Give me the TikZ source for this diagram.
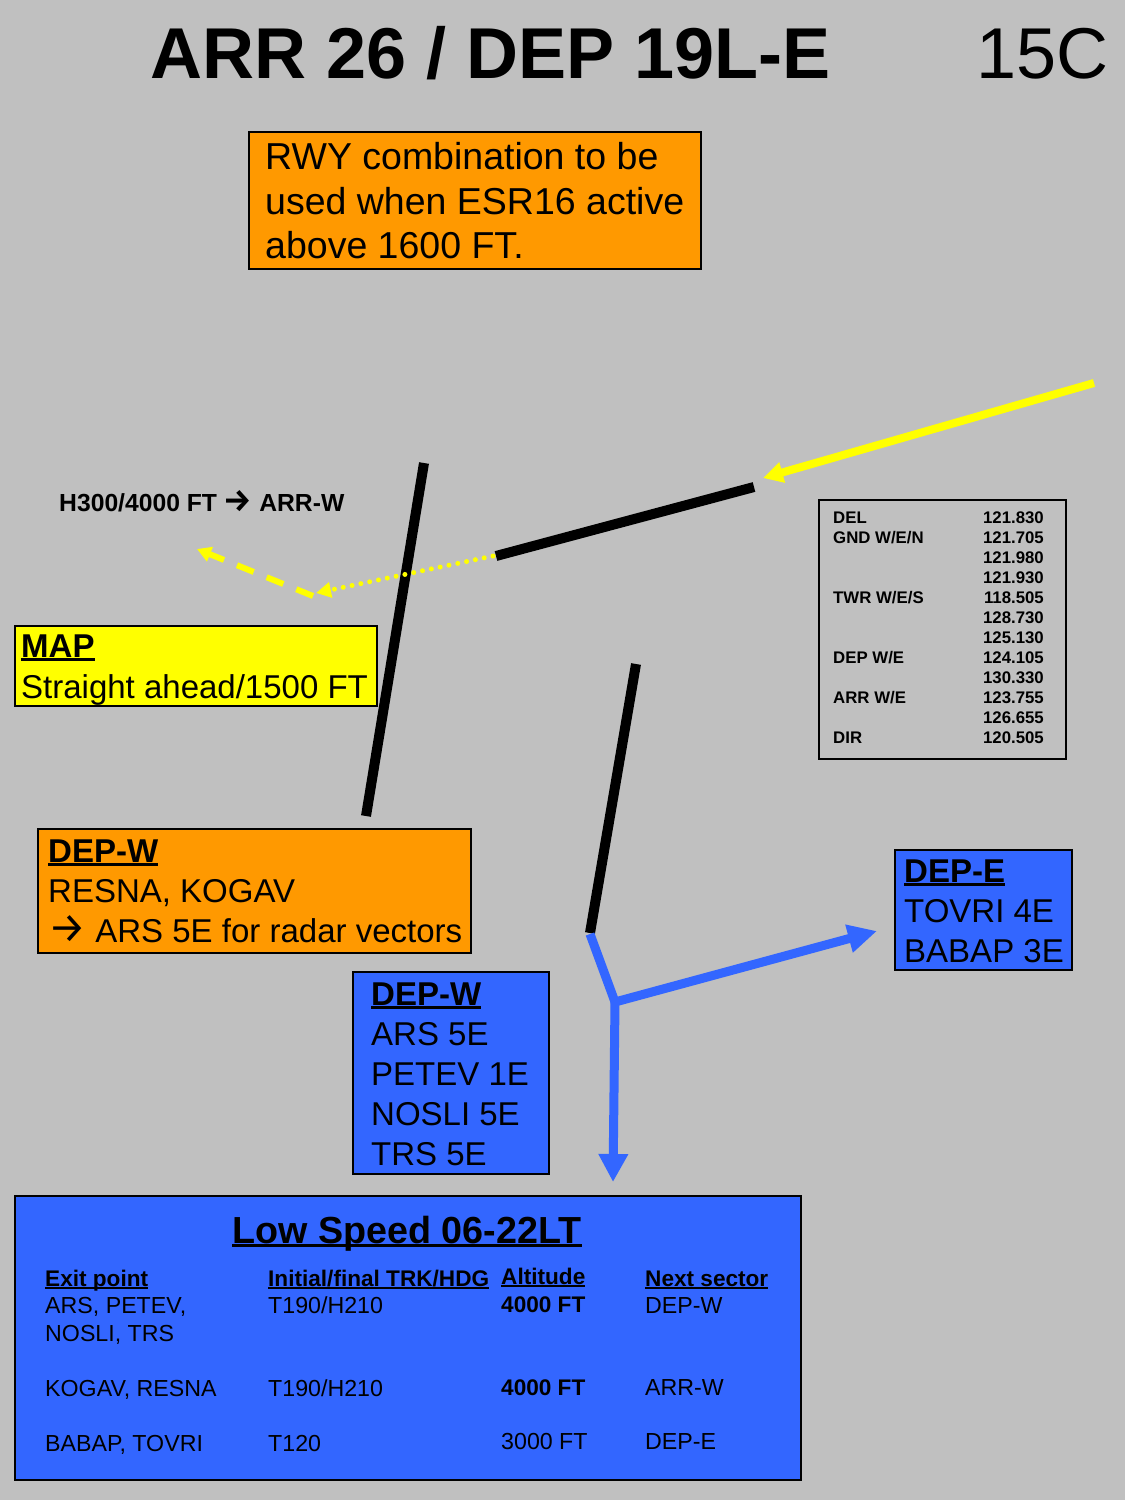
\documentclass[tikz,border=0pt]{standalone}
\usepackage{fontspec}
\setmainfont{Liberation Sans}
\newfontfamily\arrowfont{Fira Sans}
\usetikzlibrary{arrows.meta}
\definecolor{bggray}{RGB}{192,192,192}
\definecolor{orbox}{RGB}{255,153,0}
\definecolor{ylw}{RGB}{255,255,0}
\definecolor{blu}{RGB}{51,102,255}
\newcommand{\ulbar}[1]{\setbox0=\hbox{#1}\leavevmode\rlap{\rule[-0.11em]{\wd0}{0.075em}}\box0}
\newcommand{\rarr}{{\arrowfont\scalebox{1.28}{→}}}
\begin{document}
\begin{tikzpicture}[x=1pt,y=-1pt,
  boxnode/.style={draw=black, line width=2pt, inner sep=0pt, anchor=north west},
  txt/.style={inner sep=0pt, anchor=base west},
  tTitle/.style={txt, font=\fontsize{72}{80}\selectfont},
  tBig/.style={txt, font=\fontsize{37.5}{43}\selectfont},
  tMid/.style={txt, font=\fontsize{33}{40}\selectfont},
  tMidB/.style={txt, font=\bfseries\fontsize{33}{40}\selectfont},
  tSmall/.style={txt, font=\fontsize{23.2}{26}\selectfont},
  tSmallB/.style={txt, font=\bfseries\fontsize{22.6}{26}\selectfont},
  tFreq/.style={txt, font=\bfseries\fontsize{16.8}{20}\selectfont},
  rwy/.style={line width=10pt, black},
  bluline/.style={line width=9pt, blu},
  ylwline/.style={ylw}
]
\useasboundingbox (0,0) rectangle (1125,1500);
\fill[bggray] (0,0) rectangle (1125,1500);

% title
\node[tTitle, font=\bfseries\fontsize{72}{80}\selectfont] (title) at (150,78) {ARR 26 / DEP 19L-E};
\node[tTitle] (temp) at (976,78) {15C};

% RWY note
\node[boxnode, fill=orbox, minimum width=452pt, minimum height=137pt] (rwybox) at (248,131) {};
\node[tBig] (rwy1) at (265,169) {RWY combination to be};
\node[tBig] (rwy2) at (265,214) {used when ESR16 active};
\node[tBig] (rwy3) at (265,258) {above 1600 FT.};

% runways
\coordinate (r1a) at (424,463); \coordinate (r1b) at (366,816);
\coordinate (r2a) at (496,556); \coordinate (r2b) at (754,487);
\coordinate (r3a) at (636,664); \coordinate (r3b) at (590,933);
\draw[rwy] (r1a) -- (r1b);
\draw[rwy] (r2a) -- (r2b);
\draw[rwy] (r3a) -- (r3b);

% arrival arrow
\coordinate (arrS) at (1094,383);
\coordinate (arrE) at (763,478);
\draw[ylwline, line width=8pt, -{Triangle[length=20pt,width=20pt]}] (arrS) -- (arrE);

% missed approach
\coordinate (mapA) at (493,556);
\coordinate (mapB) at (316,593);
\coordinate (mapB2) at (313,596);
\coordinate (mapC) at (197,549);
\draw[ylwline, line width=5pt, line cap=round, dash pattern=on 0pt off 9pt, -{Triangle[length=15pt,width=15pt]}] (mapA) -- (mapB);
\draw[ylwline, line width=6pt, dash pattern=on 18pt off 14pt, -{Triangle[length=14pt,width=15pt]}] (mapB2) -- (mapC);

\node[txt, font=\bfseries\fontsize{24.7}{28}\selectfont] (hdg) at (59,511) {H300/4000 FT {\bfseries\rarr} ARR-W};

% MAP box
\node[boxnode, fill=ylw, minimum width=362pt, minimum height=80pt] (mapbox) at (14,625) {};
\node[tMidB] (map1) at (21,657) {\ulbar{MAP}};
\node[tMid] (map2) at (21,698) {Straight ahead/1500 FT};

% frequencies
\node[boxnode, minimum width=247pt, minimum height=259pt] (freqbox) at (818,499) {};
\foreach \lab/\fq [count=\i from 0] in {{DEL}/121.830, {GND W/E/N}/121.705, {}/121.980, {}/121.930, {TWR W/E/S}/118.505, {}/128.730, {}/125.130, {DEP W/E}/124.105, {}/130.330, {ARR W/E}/123.755, {}/126.655, {DIR}/120.505} {
  \node[tFreq] (fl\i) at (833,{523+20*\i}) {\lab};
  \node[tFreq, anchor=base east] (fr\i) at (1044,{523+20*\i}) {\fq};
}

% DEP-W orange
\node[boxnode, fill=orbox, minimum width=433pt, minimum height=124pt] (depwo) at (37,828) {};
\node[tMidB] (dwo1) at (48,862) {\ulbar{DEP-W}};
\node[tMid] (dwo2) at (48,902) {RESNA, KOGAV};
\node[tMid] (dwo3) at (48,942) {\rarr\ ARS 5E for radar vectors};

% DEP-W blue
\node[boxnode, fill=blu, minimum width=196pt, minimum height=202pt] (depwb) at (352,971) {};
\node[tMidB] (dwb1) at (371,1005) {\ulbar{DEP-W}};
\node[tMid] (dwb2) at (371,1045) {ARS 5E};
\node[tMid] (dwb3) at (371,1085) {PETEV 1E};
\node[tMid] (dwb4) at (371,1125) {NOSLI 5E};
\node[tMid] (dwb5) at (371,1165) {TRS 5E};

% DEP-E blue
\node[boxnode, fill=blu, minimum width=177pt, minimum height=120pt] (depe) at (894,849) {};
\node[tMidB] (de1) at (904,882) {\ulbar{DEP-E}};
\node[tMid] (de2) at (904,922) {TOVRI 4E};
\node[tMid] (de3) at (904,962) {BABAP 3E};

% blue departure routes
\coordinate (bs) at (590,934);
\coordinate (bj) at (615,1002);
\coordinate (bE) at (877,931);
\coordinate (bD) at (613,1182);
\draw[bluline, line join=miter, -{Triangle[length=29pt,width=27pt]}] (bs) -- (bj) -- (bE);
\draw[bluline, -{Triangle[length=28pt,width=28pt]}] (bj) -- (bD);

% Low speed table
\node[boxnode, fill=blu, minimum width=786pt, minimum height=284pt] (lowbox) at (14,1195) {};
\node[txt, anchor=base, font=\bfseries\fontsize{37.7}{43}\selectfont] (lowt) at (407,1243) {\ulbar{Low Speed 06-22LT}};
\node[tSmallB] (h1) at (45,1286) {\ulbar{Exit point}};
\node[tSmallB] (h2) at (268,1286) {\ulbar{Initial/final TRK/HDG}};
\node[tSmallB] (h3) at (501,1284) {\ulbar{Altitude}};
\node[tSmallB] (h4) at (645,1286) {\ulbar{Next sector}};

\node[tSmall] (c11) at (45,1313) {ARS, PETEV,};
\node[tSmall] (c11b) at (45,1341) {NOSLI, TRS};
\node[tSmall] (c12) at (268,1313) {T190/H210};
\node[tSmallB] (c13) at (501,1312) {4000 FT};
\node[tSmall] (c14) at (645,1313) {DEP-W};

\node[tSmall] (c21) at (45,1396) {KOGAV, RESNA};
\node[tSmall] (c22) at (268,1396) {T190/H210};
\node[tSmallB] (c23) at (501,1395) {4000 FT};
\node[tSmall] (c24) at (645,1395) {ARR-W};

\node[tSmall] (c31) at (45,1451) {BABAP, TOVRI};
\node[tSmall] (c32) at (268,1451) {T120};
\node[tSmall] (c33) at (501,1449) {3000 FT};
\node[tSmall] (c34) at (645,1449) {DEP-E};
\end{tikzpicture}
\end{document}
